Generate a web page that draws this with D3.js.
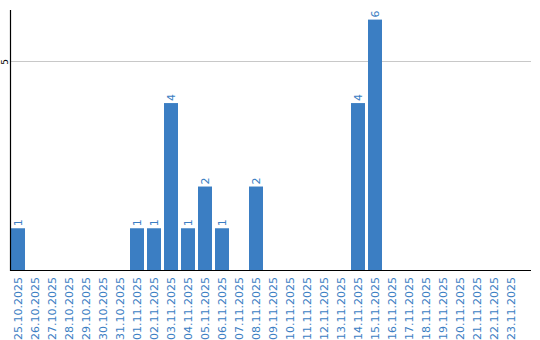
<!DOCTYPE html>
<html><head><meta charset="utf-8">
<script src="https://cdn.jsdelivr.net/npm/d3@7"></script>
<style>html,body{margin:0;padding:0;background:#fff;}svg{display:block;}</style>
</head><body>
<script>
const dates = ["25.10.2025","26.10.2025","27.10.2025","28.10.2025","29.10.2025","30.10.2025","31.10.2025",
"01.11.2025","02.11.2025","03.11.2025","04.11.2025","05.11.2025","06.11.2025","07.11.2025","08.11.2025",
"09.11.2025","10.11.2025","11.11.2025","12.11.2025","13.11.2025","14.11.2025","15.11.2025","16.11.2025",
"17.11.2025","18.11.2025","19.11.2025","20.11.2025","21.11.2025","22.11.2025","23.11.2025"];
const counts = [1,0,0,0,0,0,0,1,1,4,1,2,1,0,2,0,0,0,0,0,4,6,0,0,0,0,0,0,0,0];
const yTicks = [5];

const W = 540, H = 340;
const barColor = "#3b7ec3";
const fontFam = "DejaVu Sans";
const svg = d3.select("body").append("svg").attr("width", W).attr("height", H);

const x = d3.scaleBand().domain(dates).range([11, 518]).paddingInner(3/17).paddingOuter(0);
const y = d3.scaleLinear().domain([0, 6.23]).range([270, 10]);

// gridlines
svg.append("g").selectAll("line").data(yTicks).join("line")
  .attr("x1", 11).attr("x2", 531)
  .attr("y1", d => Math.round(y(d)) + 0.5).attr("y2", d => Math.round(y(d)) + 0.5)
  .attr("stroke", "#c8c8c8").attr("stroke-width", 1);

const data = dates.map((d, i) => ({d, v: counts[i]})).filter(o => o.v > 0);

// bars
svg.append("g").selectAll("rect").data(data).join("rect")
  .attr("x", o => x(o.d)).attr("width", x.bandwidth())
  .attr("y", o => y(o.v)).attr("height", o => y(0) - y(o.v))
  .attr("fill", barColor);

// value labels
svg.append("g").selectAll("text").data(data).join("text")
  .attr("transform", o => `translate(${x(o.d) + x.bandwidth()/2 + 4},${y(o.v) - 2}) rotate(-90)`)
  .attr("font-family", fontFam).attr("font-size", 11)
  .attr("fill", barColor).attr("text-anchor", "start")
  .text(o => o.v);

// x axis
const xAxis = svg.append("g").attr("transform", "translate(0,270)")
  .call(d3.axisBottom(x).tickSize(0).tickPadding(0));
xAxis.select(".domain").remove();
xAxis.selectAll("text")
  .attr("transform", "translate(4,7) rotate(-90)")
  .attr("dy", 0).attr("y", 0).attr("x", 0)
  .attr("text-anchor", "end")
  .attr("font-family", fontFam).attr("font-size", 11)
  .attr("fill", barColor);
svg.append("line").attr("x1", 10).attr("x2", 531).attr("y1", 270.5).attr("y2", 270.5)
  .attr("stroke", "#000").attr("stroke-width", 1.2);

// y axis
const yAxis = svg.append("g").attr("transform", "translate(10.5,0)")
  .call(d3.axisLeft(y).tickValues(yTicks).tickFormat(d3.format("d")).tickSize(0).tickPadding(0));
yAxis.select(".domain").remove();
yAxis.selectAll("text")
  .attr("transform", "translate(-3,0) rotate(-90)")
  .attr("x", 0).attr("dy", 0).attr("y", 0)
  .attr("text-anchor", "middle")
  .attr("font-family", fontFam).attr("font-size", 9)
  .attr("fill", "#000");
svg.append("line").attr("x1", 10.5).attr("x2", 10.5).attr("y1", 10).attr("y2", 271)
  .attr("stroke", "#000").attr("stroke-width", 1.2);
</script>
</body></html>
